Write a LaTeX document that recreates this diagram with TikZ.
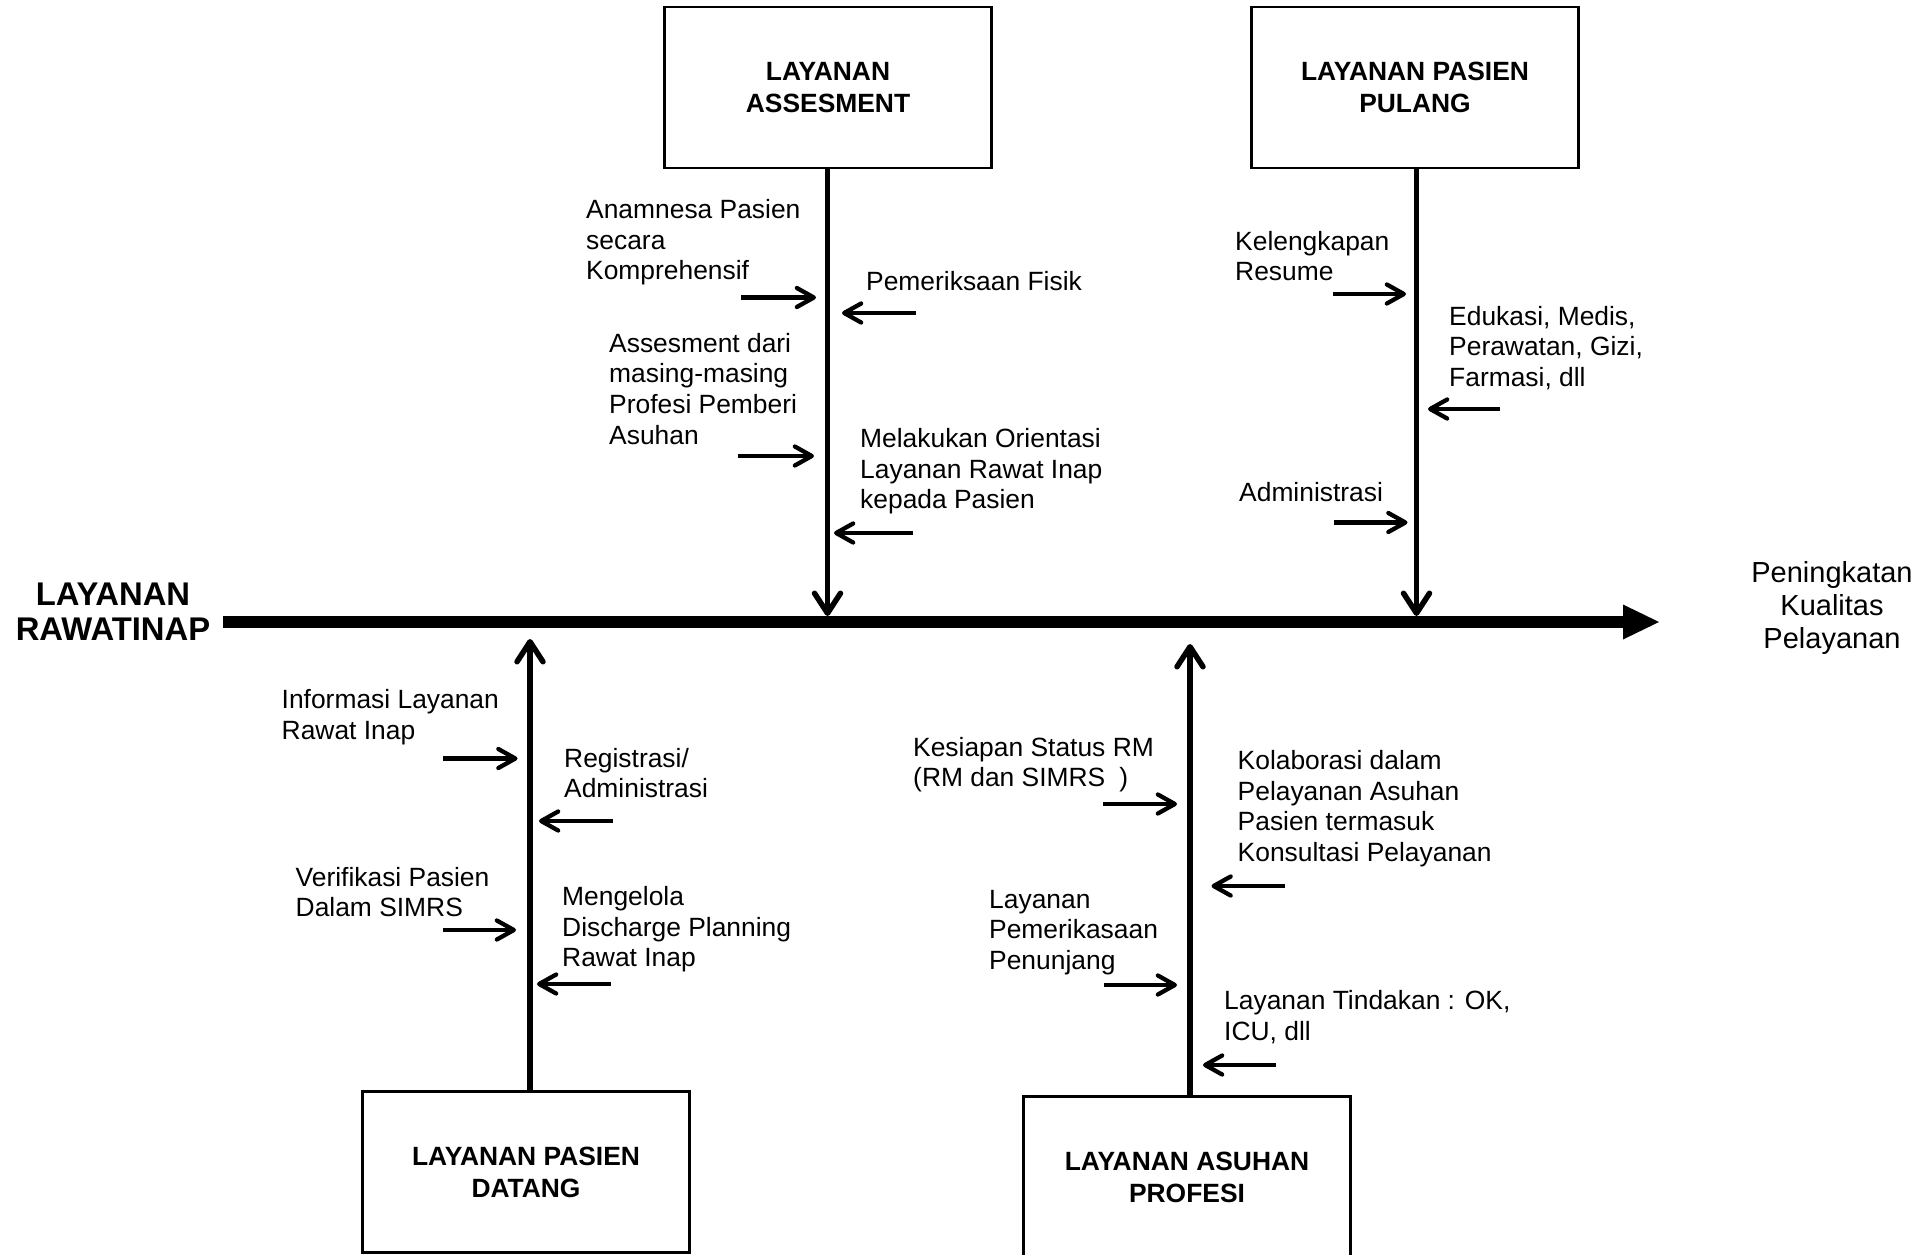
\documentclass[tikz,border=0pt]{standalone}
\usepackage{fontspec}
\setmainfont{Liberation Sans}
\usetikzlibrary{arrows.meta}
\newcommand\lblfont{\fontsize{26.4pt}{30.6pt}\selectfont}
\newcommand\boxfont{\fontsize{26.4pt}{31.9pt}\selectfont\bfseries}
\newcommand\spinefont{\fontsize{32.8pt}{34.3pt}\selectfont\bfseries}
\newcommand\goalfont{\fontsize{29pt}{33pt}\selectfont}
\newcommand\lstrut{\rule{0pt}{20pt}}
\newcommand\gstrut{\rule{0pt}{21.75pt}}
\begin{document}
\begin{tikzpicture}[x=1pt,y=-1pt,
  catbox/.style={draw, line width=2.5pt, minimum width=327pt, minimum height=161pt, align=center, font=\boxfont, inner sep=0pt},
  lbl/.style={anchor=north west, inner sep=0pt, align=left, font=\lblfont},
  spine/.style={line width=12pt, -{Triangle[length=36pt,width=35pt,line width=0pt]}},
  bone/.style={line width=5.5pt, -{Straight Barb[length=20pt,width=26pt,round]}},
  sarr/.style={line width=4.3pt, -{Straight Barb[length=17pt,width=19pt,round]}}]
\useasboundingbox (0,0) rectangle (1922,1255);

% heads
\node[anchor=center, align=center, font=\spinefont, inner sep=0pt] (rawat) at (113,611.6) {LAYANAN\\RAWATINAP};
\node[anchor=north, align=center, font=\goalfont, inner sep=0pt] (goal) at (1832,561) {\gstrut Peningkatan\\Kualitas\\Pelayanan};

% spine
\coordinate (spineL) at (223,622);
\coordinate (spineR) at (1659,622);
\draw[spine] (spineL) -- (spineR);

% category boxes
\node[catbox] (assess) at (828,87.5) {LAYANAN\\ASSESMENT};
\node[catbox] (pulang) at (1415,87.5) {LAYANAN PASIEN\\PULANG};
\node[catbox] (datang) at (526,1172) {LAYANAN PASIEN\\DATANG};
\node[catbox] (asuhan) at (1187,1177) {LAYANAN ASUHAN\\PROFESI};

% bones
\coordinate (assessT) at (827.5,616);
\coordinate (pulangT) at (1416.5,616);
\coordinate (datangT) at (530,639);
\coordinate (asuhanT) at (1190,644);
\draw[bone] (assess.south -| assessT) -- (assessT);
\draw[bone] (pulang.south -| pulangT) -- (pulangT);
\draw[bone] (datang.north -| datangT) -- (datangT);
\draw[bone] (asuhan.north -| asuhanT) -- (asuhanT);

% labels: assesment
\node[lbl] (anam) at (586,198.5) {\lstrut Anamnesa Pasien\\secara\\Komprehensif};
\node[lbl] (fisik) at (866,270) {\lstrut Pemeriksaan Fisik};
\node[lbl] (profesi) at (609,332) {\lstrut Assesment dari\\masing-masing\\Profesi Pemberi\\Asuhan};
\node[lbl] (orient) at (860,427.5) {\lstrut Melakukan Orientasi\\Layanan Rawat Inap\\kepada Pasien};
% labels: pulang
\node[lbl] (resume) at (1235,230) {\lstrut Kelengkapan\\Resume};
\node[lbl] (edukasi) at (1449,305) {\lstrut Edukasi, Medis,\\Perawatan, Gizi,\\Farmasi, dll};
\node[lbl] (admin) at (1239,481) {\lstrut Administrasi};
% labels: datang
\node[lbl] (info) at (281.5,688.5) {\lstrut Informasi Layanan\\Rawat Inap};
\node[lbl] (regis) at (564,747) {\lstrut Registrasi/\\Administrasi};
\node[lbl] (verif) at (295.5,866) {\lstrut Verifikasi Pasien\\Dalam SIMRS};
\node[lbl] (discharge) at (562,885.5) {\lstrut Mengelola\\Discharge Planning\\Rawat Inap};
% labels: asuhan
\node[lbl] (kesiapan) at (913,736) {\lstrut Kesiapan Status RM\\(RM dan SIMRS\hspace{14pt})};
\node[lbl] (kolab) at (1237.5,749.5) {\lstrut Kolaborasi dalam\\Pelayanan Asuhan\\Pasien termasuk\\Konsultasi Pelayanan};
\node[lbl] (penunjang) at (989,888) {\lstrut Layanan\\Pemerikasaan\\Penunjang};
\node[lbl] (tindakan) at (1224,989.5) {\lstrut Layanan Tindakan : OK,\\ICU, dll};

% small arrows: assesment
\coordinate (a1s) at (741,297.5); \coordinate (a1e) at (816,297.5);
\coordinate (a2s) at (916,313);   \coordinate (a2e) at (842,313);
\coordinate (a3s) at (738,456);   \coordinate (a3e) at (814,456);
\coordinate (a4s) at (913,533);   \coordinate (a4e) at (834,533);
\draw[sarr] (a1s) -- (a1e);
\draw[sarr] (a2s) -- (a2e);
\draw[sarr] (a3s) -- (a3e);
\draw[sarr] (a4s) -- (a4e);
% small arrows: pulang
\coordinate (p1s) at (1333,294);  \coordinate (p1e) at (1406,294);
\coordinate (p2s) at (1500,409);  \coordinate (p2e) at (1428,409);
\coordinate (p3s) at (1334,522.5);\coordinate (p3e) at (1407.5,522.5);
\draw[sarr] (p1s) -- (p1e);
\draw[sarr] (p2s) -- (p2e);
\draw[sarr] (p3s) -- (p3e);
% small arrows: datang
\coordinate (d1s) at (443,758.5); \coordinate (d1e) at (517.5,758.5);
\coordinate (d2s) at (613,821);   \coordinate (d2e) at (539,821);
\coordinate (d3s) at (443,930);   \coordinate (d3e) at (516,930);
\coordinate (d4s) at (611,984);   \coordinate (d4e) at (537,984);
\draw[sarr] (d1s) -- (d1e);
\draw[sarr] (d2s) -- (d2e);
\draw[sarr] (d3s) -- (d3e);
\draw[sarr] (d4s) -- (d4e);
% small arrows: asuhan
\coordinate (s1s) at (1103,804);  \coordinate (s1e) at (1177,804);
\coordinate (s2s) at (1285,886);  \coordinate (s2e) at (1211.5,886);
\coordinate (s3s) at (1104,985);  \coordinate (s3e) at (1177,985);
\coordinate (s4s) at (1276,1065); \coordinate (s4e) at (1203,1065);
\draw[sarr] (s1s) -- (s1e);
\draw[sarr] (s2s) -- (s2e);
\draw[sarr] (s3s) -- (s3e);
\draw[sarr] (s4s) -- (s4e);
\end{tikzpicture}
\end{document}
